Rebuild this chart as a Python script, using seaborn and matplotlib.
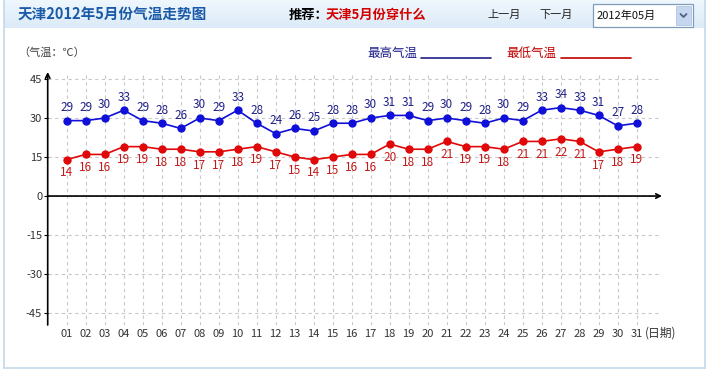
import numpy as np
import pandas as pd
import seaborn as sns
import matplotlib
matplotlib.use('Agg')
import matplotlib.pyplot as plt
from matplotlib.patches import Rectangle

# data (Tianjin, May 2012)
days = [f'{d:02d}' for d in range(1, 32)]
high = [29, 29, 30, 33, 29, 28, 26, 30, 29, 33, 28, 24, 26, 25, 28, 28,
        30, 31, 31, 29, 30, 29, 28, 30, 29, 33, 34, 33, 31, 27, 28]
low = [14, 16, 16, 19, 19, 18, 18, 17, 17, 18, 19, 17, 15, 14, 15, 16,
       16, 20, 18, 18, 21, 19, 19, 18, 21, 21, 22, 21, 17, 18, 19]
y_ticks = [45, 30, 15, 0, -15, -30, -45]

df = pd.DataFrame({'day': np.arange(1, len(days) + 1), 'high': high, 'low': low})

sns.set_theme(style='white')
plt.rcParams['font.family'] = ['Noto Sans CJK SC', 'DejaVu Sans']

W, H = 713, 370
fig = plt.figure(figsize=(W / 100, H / 100), dpi=100)

# page decoration in pixel coordinates
bg = fig.add_axes([0, 0, 1, 1])
bg.set_xlim(0, W)
bg.set_ylim(H, 0)
bg.axis('off')

grad = np.linspace(0, 1, 64).reshape(-1, 1)
top_c = np.array([0.94, 0.97, 0.995])
bot_c = np.array([0.86, 0.92, 0.97])
img = top_c + (bot_c - top_c) * grad[..., None]
bg.imshow(img, extent=(4, 705, 28, 0), aspect='auto', zorder=0)
frame = '#c4d8ea'
bg.plot([4, 4], [0, 368], color=frame, lw=1.2)
bg.plot([705, 705], [0, 368], color=frame, lw=1.2)
bg.plot([4, 705], [368, 368], color=frame, lw=1.2)

bg.text(18, 14, '天津2012年5月份气温走势图', fontsize=10.5, fontweight='bold',
        color='#1a5aa8', va='center')
bg.text(289, 15, '推荐：', fontsize=9.5, fontweight='bold', color='black', va='center')
bg.text(326, 15, '天津5月份穿什么', fontsize=9.5, fontweight='bold', color='#d40000', va='center')
bg.text(487, 15, '上一月', fontsize=8, color='#222222', va='center')
bg.text(539, 15, '下一月', fontsize=8, color='#222222', va='center')

bg.add_patch(Rectangle((593, 4), 100, 23, facecolor='white', edgecolor='#7f9db9', lw=0.9))
bg.text(597, 16, '2012年05月', fontsize=8, color='#111111', va='center')
bg.add_patch(Rectangle((676, 6), 15, 19, facecolor='#c6d6ee', edgecolor='#b0c4e2', lw=0.6))
bg.plot([680.5, 683.5, 686.5], [14, 17, 14], color='#4d6185', lw=1.3)

bg.text(18, 53, '（气温：℃）', fontsize=8, color='#444444', va='center')
bg.text(367, 53, '最高气温', fontsize=9, color='#1f1f8a', va='center')
bg.plot([421, 491], [58, 58], color='#1f1f8a', lw=1.2)
bg.text(506, 53, '最低气温', fontsize=9, color='#c00000', va='center')
bg.plot([561, 631], [58, 58], color='#c00000', lw=1.2)
bg.text(645, 333, '(日期)', fontsize=8.5, color='#333333', va='center')

# chart area
x0, x1, ytop, ybot = 47.7, 662, 72, 325
ax = fig.add_axes([x0 / W, 1 - ybot / H, (x1 - x0) / W, (ybot - ytop) / H])
ax.patch.set_alpha(0)
xmax = (x1 - x0) / 19.0
ax.set_xlim(0, xmax)
ax.set_ylim(-49.6, 47.7)

blue_pt = '#1010d8'
red_pt = '#e00808'
sns.lineplot(data=df, x='day', y='high', ax=ax, color=blue_pt, lw=1.2,
             marker='o', markersize=6, markeredgewidth=0, zorder=3)
sns.lineplot(data=df, x='day', y='low', ax=ax, color=red_pt, lw=1.2,
             marker='o', markersize=6, markeredgewidth=0, zorder=3)

for d, v in zip(df['day'], df['high']):
    ax.annotate(str(v), (d, v), xytext=(0, 9.5), textcoords='offset points',
                ha='center', va='center', fontsize=8.5, color='#1f1f8a')
for d, v in zip(df['day'], df['low']):
    ax.annotate(str(v), (d, v), xytext=(0, -9.5), textcoords='offset points',
                ha='center', va='center', fontsize=8.5, color='#c41a1a')

ax.set_xticks(df['day'])
ax.set_xticklabels(days)
ax.set_yticks(y_ticks)
ax.set_yticklabels([str(t) for t in y_ticks])
ax.grid(True, color='#c8c8c8', linestyle=(0, (3, 3)), lw=0.8)
ax.tick_params(axis='x', length=0, pad=3, labelsize=8, labelcolor='#333333')
ax.tick_params(axis='y', left=True, length=3, width=0.8, color='black', pad=1,
               labelsize=8, labelcolor='#333333')
ax.set_xlabel('')
ax.set_ylabel('')
for s in ax.spines.values():
    s.set_visible(False)

# axes with arrows
ax.annotate('', xy=(0, 47.7), xytext=(0, -49.6),
            arrowprops=dict(arrowstyle='->', color='black', lw=1.2, shrinkA=0, shrinkB=0,
                            mutation_scale=8), annotation_clip=False)
ax.annotate('', xy=(xmax, 0), xytext=(0, 0),
            arrowprops=dict(arrowstyle='->', color='black', lw=1.2, shrinkA=0, shrinkB=0,
                            mutation_scale=8), annotation_clip=False)

fig.savefig('out.png', dpi=100)
